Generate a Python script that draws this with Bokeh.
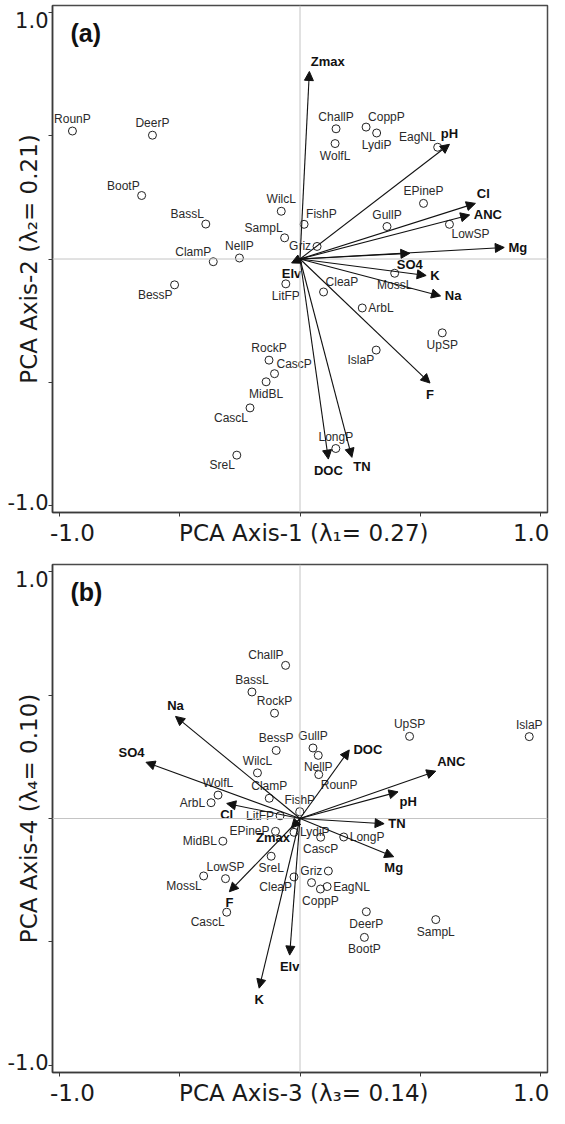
from bokeh.plotting import figure
from bokeh.models import (ColumnDataSource, Arrow, NormalHead, Label, Span, FixedTicker,
                          Range1d, LinearAxis)
from bokeh.layouts import column
from bokeh.embed import file_html
from bokeh.resources import INLINE
from bokeh.core.properties import value

# ---------------- data: panel (a) PCA axes 1 & 2 ----------------
a_sites = ["RounP", "DeerP", "BootP", "BassL", "ClamP", "NellP", "WilcL", "SampL",
           "ChallP", "WolfL", "CoppP", "LydiP", "EagNL", "EPineP", "GullP", "LowSP",
           "FishP", "Griz", "LitFP", "CleaP", "MossL", "ArbL", "UpSP", "IslaP",
           "LongP", "BessP", "RockP", "CascP", "MidBL", "CascL", "SreL"]
a_site_x = [-0.947, -0.614, -0.659, -0.392, -0.361, -0.252, -0.078, -0.064,
            0.150, 0.146, 0.275, 0.319, 0.573, 0.514, 0.362, 0.622,
            0.017, 0.071, -0.059, 0.098, 0.394, 0.259, 0.592, 0.317,
            0.149, -0.522, -0.129, -0.106, -0.141, -0.208, -0.263]
a_site_y = [0.520, 0.503, 0.258, 0.142, -0.011, 0.004, 0.194, 0.086,
            0.529, 0.469, 0.536, 0.512, 0.454, 0.226, 0.132, 0.141,
            0.141, 0.051, -0.101, -0.134, -0.058, -0.199, -0.300, -0.370,
            -0.770, -0.105, -0.411, -0.466, -0.499, -0.605, -0.797]
a_vars = ["Zmax", "pH", "Cl", "ANC", "Mg", "SO4", "K", "Na", "F", "TN", "DOC", "Elv"]
a_var_x = [0.039, 0.622, 0.730, 0.706, 0.850, 0.457, 0.525, 0.585, 0.541, 0.216, 0.118, -0.035]
a_var_y = [0.762, 0.466, 0.226, 0.179, 0.047, 0.023, -0.067, -0.150, -0.504, -0.806, -0.813, -0.016]

# ---------------- data: panel (b) PCA axes 3 & 4 ----------------
b_sites = ["ChallP", "BassL", "RockP", "BessP", "WilcL", "ClamP", "WolfL", "ArbL",
           "LitFP", "EPineP", "MidBL", "SreL", "LowSP", "MossL", "CascL", "CleaP",
           "Griz", "EagNL", "CoppP", "", "DeerP", "BootP", "SampL", "LydiP",
           "CascP", "LongP", "UpSP", "IslaP", "GullP", "NellP", "RounP", "FishP"]
b_site_x = [-0.060, -0.200, -0.106, -0.099, -0.177, -0.128, -0.341, -0.370,
            -0.083, -0.102, -0.321, -0.120, -0.310, -0.401, -0.305, -0.025,
            0.118, 0.113, 0.085, 0.048, 0.276, 0.268, 0.565, -0.025,
            0.086, 0.182, 0.456, 0.954, 0.054, 0.076, 0.078, -0.001]
b_site_y = [0.621, 0.513, 0.427, 0.276, 0.185, 0.082, 0.095, 0.064,
            0.011, -0.052, -0.092, -0.153, -0.244, -0.233, -0.380, -0.237,
            -0.213, -0.276, -0.286, -0.260, -0.378, -0.482, -0.410, -0.056,
            -0.076, -0.075, 0.333, 0.332, 0.286, 0.256, 0.178, 0.028]
b_vars = ["Na", "SO4", "Cl", "DOC", "ANC", "pH", "TN", "Mg", "Zmax", "F", "K", "Elv"]
b_var_x = [-0.518, -0.641, -0.305, 0.205, 0.565, 0.408, 0.350, 0.390, -0.036, -0.294, -0.170, -0.043]
b_var_y = [0.414, 0.228, 0.061, 0.278, 0.192, 0.108, -0.021, -0.155, -0.039, -0.297, -0.688, -0.554]

# ---------------- ticks, tick labels and axis titles ----------------
ticks = [-1.0, -0.5, 0.0, 0.5, 1.0]
x_label_at = [-0.947, 0.016, 0.966]         # where the bottom row of texts sits
y_label_at = [0.97, -0.987]                 # where the left tick texts sit
y_label_text = ["1.0", "-1.0"]
a_xtitle = "PCA Axis-1 (λ₁= 0.27)"
a_ytitle = "PCA Axis-2 (λ₂= 0.21)"
b_xtitle = "PCA Axis-3 (λ₃= 0.14)"
b_ytitle = "PCA Axis-4 (λ₄= 0.10)"

# ---------------- label placement (style only) ----------------
a_site_pos = ["n", "n", "nw", "nw", "nw", "n", "n", "nw",
              "n", "s", "ne", "s", "nw", "n", "n", "se",
              "ne", "w", "s", "ne", "s", "e", "s", "sw",
              "n", "sw", "n", "ne", "s", "sw", "sw"]
a_var_pos = ["ne", "n", "ne", "e", "e", "s", "e", "e", "s", "se", "s", "s"]
b_site_pos = ["nw", "n", "n", "n", "n", "n", "n", "w",
              "w", "w", "w", "s", "n", "sw", "sw", "sw",
              "w", "e", "s", "n", "s", "s", "s", "e",
              "s", "e", "n", "n", "n", "s", "se", "n"]
b_var_pos = ["n", "nw", "s", "e", "ne", "se", "e", "s", "sw", "s", "s", "s"]

OFF = {
    "n": (0, -5, "center", "bottom"),
    "s": (0, 5, "center", "top"),
    "e": (6, 0, "left", "middle"),
    "w": (-6, 0, "right", "middle"),
    "ne": (2, -3, "left", "bottom"),
    "nw": (-2, -3, "right", "bottom"),
    "se": (2, 3, "left", "top"),
    "sw": (-2, 3, "right", "top"),
}

AX_FONT = "DejaVu Sans"
LB_FONT = "Liberation Sans"
R = 1.03
AX_COL = "#3a3a3a"
TXT_COL = "#1a1a1a"


def add_labels(p, names, xs, ys, pos, size, bold, scale):
    for code, (dx, dy, al, bl) in OFF.items():
        idx = [i for i, c in enumerate(pos) if c == code and names[i]]
        if not idx:
            continue
        src = ColumnDataSource(dict(x=[xs[i] for i in idx], y=[ys[i] for i in idx],
                                    t=[names[i] for i in idx]))
        p.text("x", "y", text="t", source=src, x_offset=dx * scale, y_offset=dy * scale,
               text_align=al, text_baseline=bl, text_font=value(LB_FONT),
               text_font_size=size, text_font_style="bold" if bold else "normal",
               text_color="#111111" if bold else "#2a2a2a")


def tick_only(ax):
    ax.ticker = FixedTicker(ticks=ticks)
    ax.axis_line_color = AX_COL
    ax.axis_line_width = 1.5
    ax.major_tick_line_color = AX_COL
    ax.major_tick_line_width = 1
    ax.major_tick_out = 4
    ax.major_tick_in = 0
    ax.minor_tick_line_color = None
    ax.major_label_text_font_size = "0px"
    ax.major_label_standoff = 0
    ax.major_label_overrides = {t: "" for t in ticks}


def label_only(ax, at, texts, size, standoff):
    ax.ticker = FixedTicker(ticks=at)
    ax.axis_line_color = None
    ax.major_tick_line_color = None
    ax.minor_tick_line_color = None
    ax.major_tick_out = 0
    ax.major_tick_in = 0
    ax.major_label_standoff = standoff
    ax.major_label_text_font = AX_FONT
    ax.major_label_text_font_size = size
    ax.major_label_text_color = TXT_COL
    ax.major_label_overrides = dict(zip(at, texts))


def panel(tag, sites, sx, sy, spos, vars_, vx, vy, vpos, xtitle, ytitle, height, top, bottom):
    p = figure(width=549, height=height, x_range=Range1d(-R, R), y_range=Range1d(-R, R),
               output_backend="svg", toolbar_location=None,
               min_border_left=52, min_border_right=2, min_border_top=top,
               min_border_bottom=bottom)
    p.grid.visible = False
    p.outline_line_color = "#4a4a4a"
    p.outline_line_width = 1.5
    p.background_fill_color = "white"
    p.border_fill_color = "white"

    tick_only(p.xaxis[0])
    tick_only(p.yaxis[0])

    xl = LinearAxis()
    label_only(xl, x_label_at, ["-1.0", xtitle, "1.0"], "23px", 3)
    p.add_layout(xl, "below")

    yl = LinearAxis(axis_label=ytitle)
    label_only(yl, y_label_at, y_label_text, "21px", 0)
    yl.major_label_orientation = "horizontal"
    yl.axis_label_text_font = AX_FONT
    yl.axis_label_text_font_size = "23px"
    yl.axis_label_text_font_style = "normal"
    yl.axis_label_text_color = TXT_COL
    yl.axis_label_standoff = -37
    p.add_layout(yl, "left")

    p.add_layout(Span(location=0, dimension="height", line_color="#c4c4c4", line_width=1))
    p.add_layout(Span(location=0, dimension="width", line_color="#c4c4c4", line_width=1))

    p.add_layout(Label(x=-0.955, y=0.975, text=tag, text_align="left", text_baseline="top",
                       text_font=LB_FONT, text_font_size="25px", text_font_style="bold",
                       text_color="#111111"))

    asrc = ColumnDataSource(dict(x0=[0.0] * len(vx), y0=[0.0] * len(vy), x1=vx, y1=vy))
    p.add_layout(Arrow(end=NormalHead(size=9, fill_color="#111111", line_color="#111111",
                                      line_width=1),
                       x_start="x0", y_start="y0", x_end="x1", y_end="y1", source=asrc,
                       line_color="#111111", line_width=1.1))

    p.scatter(sx, sy, marker="circle", size=8, fill_color=None, line_color="#222222",
              line_width=1)

    add_labels(p, sites, sx, sy, spos, "12px", False, 1.0)
    add_labels(p, vars_, vx, vy, vpos, "13px", True, 0.7)
    return p


pa = panel("(a)", a_sites, a_site_x, a_site_y, a_site_pos, a_vars, a_var_x, a_var_y,
           a_var_pos, a_xtitle, a_ytitle, 556, 5, 44)
pb = panel("(b)", b_sites, b_site_x, b_site_y, b_site_pos, b_vars, b_var_x, b_var_y,
           b_var_pos, b_xtitle, b_ytitle, 552, 8, 36)

layout = column(pa, pb, spacing=0)
open("out.html", "w").write(file_html(layout, INLINE))
